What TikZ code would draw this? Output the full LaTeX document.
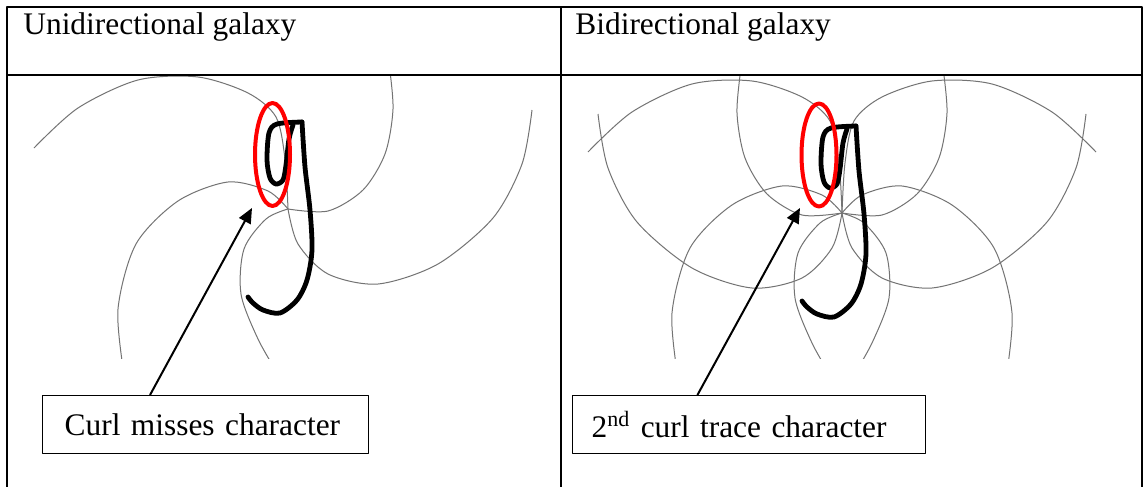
\documentclass[tikz,border=0pt]{standalone}
\usepackage{fontspec}
\setmainfont{Liberation Serif}
\usepackage{tikz}
\usetikzlibrary{arrows.meta,calc}

\begin{document}
\begin{tikzpicture}[x=0.5pt,y=-0.5pt,>={Triangle[length=7.5pt,width=6.5pt]},line join=round,
  rule/.style={line width=1pt},
  arm/.style={black!55,line width=0.5pt},
  glyph/.style={line width=2.4pt,line cap=round},
  curl/.style={red,line width=2pt},
  head/.style={anchor=base west,inner sep=0pt,font=\fontsize{15.7}{18}\selectfont},
  labelbox/.style={draw,line width=0.65pt,anchor=north west,inner ysep=0pt,minimum height=29pt,
    align=left,font=\fontsize{15.7}{18}\selectfont}]
  \useasboundingbox (0,0) rectangle (1146,487);
  \fill[white] (0,0) rectangle (1146,487);
  \draw[rule] (7,487) -- (7,7) -- (1142,7) -- (1142,487);
  \draw[rule] (561,7) -- (561,487);
  \draw[rule] (7,75) -- (1142,75);
  \node[head] (unihead) at (23,34) {Unidirectional galaxy};
  \node[head] (bihead) at (575,34) {Bidirectional galaxy};
  \foreach \cx/\cy/\m in {288/209/1,842/213/1,842/213/-1}{
    \begin{scope}[shift={(\cx,\cy)},xscale=\m]
      \clip (-268,{76-\cy}) rectangle (268,{358-\cy});
      \draw[arm] plot[smooth] coordinates {(-254,-61) (-210,-101) (-150,-129) (-90,-132)
        (-40,-116) (-12,-92) (-3,-50) (0,0)};
      \draw[arm] plot[smooth] coordinates {(101,-145) (105,-100) (97,-55) (75,-19) (40,2) (0,0)};
      \draw[arm] plot[smooth] coordinates {(-164,165) (-170,100) (-152,35) (-110,-8) (-60,-27)
        (-20,-18) (0,0)};
      \draw[arm] plot[smooth] coordinates {(244,-99) (234,-45) (205,9) (150,55) (90,75) (40,65)
        (10,35) (0,0)};
      \draw[arm] plot[smooth] coordinates {(-10,165) (-30,130) (-47,85) (-44,40) (-22,10) (0,0)};
    \end{scope}
  }
  \foreach \cx/\cy in {288/209,842/213}{
    \begin{scope}[shift={(\cx,\cy)}]
      \draw[glyph] plot[smooth] coordinates {(14,-87) (-11,-85) (-19,-76) (-21,-49) (-18,-31)
        (-12,-25) (-5,-29) (-2,-44) (1,-70) (5,-84)};
      \draw[glyph] plot[smooth] coordinates {(14,-87) (17,-42) (22,1) (24,41) (19,71) (9,91)
        (-8,104) (-25,101) (-35,94) (-40,88)};
    \end{scope}
  }
  \draw[curl] (272.5,154.5) ellipse [x radius=8.75pt,y radius=25.75pt];
  \draw[curl] (819,155) ellipse [x radius=8.75pt,y radius=25.75pt];
  \coordinate (misstip) at (252,208);
  \coordinate (tracetip) at (800,208);
  \node[labelbox,inner xsep=11pt,text width=141pt] (missbox) at (42,395) {Curl misses character};
  \node[labelbox,inner xsep=9.5pt,text width=157.5pt] (tracebox) at (572,395) {2\textsuperscript{nd} curl trace character};
  \draw[->,line width=1pt] ($(missbox.north west)!0.33!(missbox.north east)$) -- (misstip);
  \draw[->,line width=1pt] ($(tracebox.north west)!0.354!(tracebox.north east)$) -- (tracetip);
\end{tikzpicture}
\end{document}
